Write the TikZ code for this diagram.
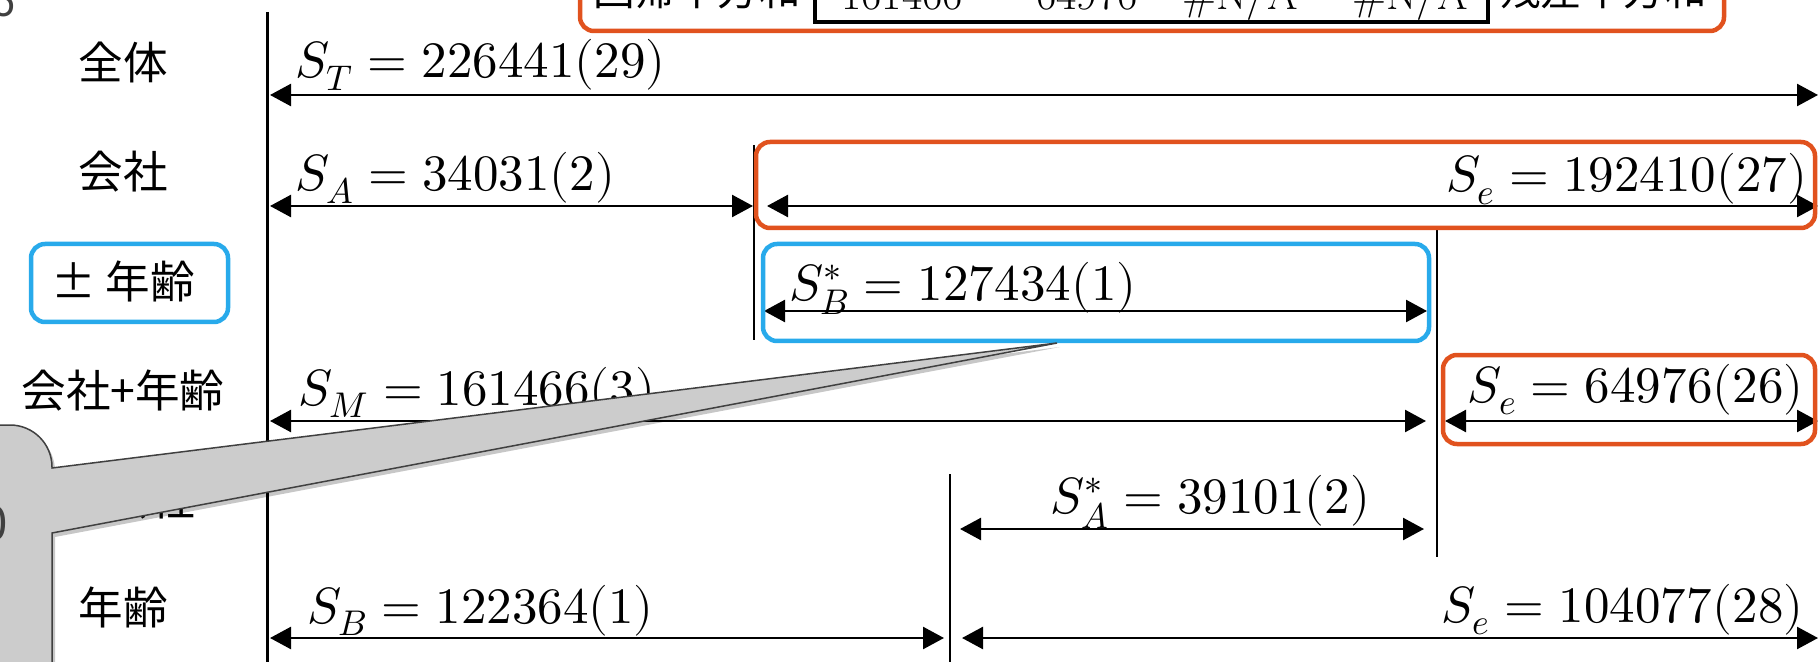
\documentclass[tikz,border=0pt]{standalone}
\usepackage{fontspec}
\usepackage{unicode-math}
\usepackage{graphicx}
\usetikzlibrary{arrows.meta,shadows}
\newfontfamily\jp{Noto Sans CJK JP}
\newfontfamily\nsans{Noto Sans}
\definecolor{orng}{RGB}{225,82,30}
\definecolor{blu}{RGB}{40,170,235}
\definecolor{callfill}{RGB}{204,204,204}
\definecolor{callline}{RGB}{64,64,64}
\newcommand\mlab[1]{\scalebox{1.0}[1]{$#1$}}
\begin{document}
\begin{tikzpicture}[x=0.5pt,y=-0.5pt,
  rowlab/.style={font=\jp\fontsize{22.3}{26}\selectfont, anchor=base, inner sep=0},
  mathlab/.style={font=\fontsize{25.5}{30}\selectfont, inner sep=0},
  toplab/.style={font=\jp\fontsize{20.8}{24}\selectfont, anchor=base, inner sep=0},
  topnum/.style={font=\fontsize{22}{26}\selectfont, anchor=base, inner sep=0},
  dimarrow/.style={line width=1.25pt, {Triangle[length=10.5pt,width=11pt]}-{Triangle[length=10.5pt,width=11pt]}},
  sepline/.style={line width=1.1pt},
  obox/.style={draw=orng, line width=2.25pt, rounded corners=7pt},
  bbox/.style={draw=blu, line width=2.25pt, rounded corners=7pt},
  greytext/.style={font=\nsans\fontsize{22}{26}\selectfont, text=callline, anchor=base east, inner sep=0},
]
\useasboundingbox (0,0) rectangle (1818,662);
\clip (0,0) rectangle (1818,662);

% separator lines
\coordinate (v1t) at (267,12);   \coordinate (v1b) at (267,662);
\coordinate (v2t) at (754,145);  \coordinate (v2b) at (754,340);
\coordinate (v3t) at (1437,228); \coordinate (v3b) at (1437,557);
\coordinate (v4t) at (950,474);  \coordinate (v4b) at (950,662);
\draw[line width=1.5pt] (v1t) -- (v1b);
\draw[sepline] (v2t) -- (v2b);
\draw[sepline] (v3t) -- (v3b);
\draw[sepline] (v4t) -- (v4b);

% arrow end points
\coordinate (a1l) at (270,95);   \coordinate (a1r) at (1818,95);
\coordinate (a2l) at (270,206);  \coordinate (a2r) at (753,206);
\coordinate (a3l) at (767,206);  \coordinate (a3r) at (1818,206);
\coordinate (a4l) at (764,311);  \coordinate (a4r) at (1427,311);
\coordinate (a5l) at (270,421);  \coordinate (a5r) at (1426,421);
\coordinate (a6l) at (1445,421); \coordinate (a6r) at (1818,421);
\coordinate (a7l) at (960,529);  \coordinate (a7r) at (1424,529);
\coordinate (a8l) at (270,638);  \coordinate (a8r) at (944,638);
\coordinate (a9l) at (962,638);  \coordinate (a9r) at (1818,638);
\foreach \i in {1,...,9} {\draw[dimarrow] (a\i l) -- (a\i r);}

% math labels
\node[mathlab, anchor=base west] (lT) at (295,78) {\mlab{S_T = 226441(29)}};
\node[mathlab, anchor=base west] (lA) at (295,191) {\mlab{S_A = 34031(2)}};
\node[mathlab, anchor=base east] (le1) at (1808,192) {\mlab{S_e = 192410(27)}};
\node[mathlab, anchor=base west] (lBs) at (789,300) {\mlab{S_B^{*} = 127434(1)}};
\node[mathlab, anchor=base west] (lM) at (298,405) {\mlab{S_M = 161466(3)}};
\node[mathlab, anchor=base east] (le2) at (1804,402) {\mlab{S_e = 64976(26)}};
\node[mathlab, anchor=base] (lAs) at (1210,513) {\mlab{S_A^{*} = 39101(2)}};
\node[mathlab, anchor=base west] (lB) at (307,623) {\mlab{S_B = 122364(1)}};
\node[mathlab, anchor=base east] (le3) at (1804,622) {\mlab{S_e = 104077(28)}};

% row labels
\node[rowlab] (r1) at (123,80) {全体};
\node[rowlab] (r2) at (123,189) {会社};
\node[rowlab] (r3) at (123,299) {± 年齢};
\node[rowlab] (r4) at (123,407) {会社+年齢};
\node[rowlab] (r5) at (123,515) {± 会社};
\node[rowlab] (r6) at (123,624) {年齢};

% highlight boxes
\draw[bbox] (31,244) rectangle (228,322);
\draw[bbox] (763,244) rectangle (1429,341);
\draw[obox] (756,142) rectangle (1815,228);
\draw[obox] (1443,355) rectangle (1815,444);

% top strip (cut off)
\draw[obox] (580,-60) rectangle (1724,31);
\draw[line width=2pt] (815,-60) |- (1488,22) -- (1488,-60);
\node[toplab] (tl1) at (697,6) {回帰平方和};
\node[toplab] (tl2) at (1603,6) {残差平方和};
\node[topnum] (n1) at (902,10) {161466};
\node[topnum] (n2) at (1087,10) {64976};
\node[topnum] (n3) at (1240,10) {\#N/A};
\node[topnum] (n4) at (1410,10) {\#N/A};
\node[greytext] (g1) at (16,17) {6};

% callout
\coordinate (tip) at (1057,343);
\draw[fill=callfill, draw=callline, line width=0.75pt,
      drop shadow={shadow xshift=1.5pt, shadow yshift=-2pt, opacity=0.22, fill=black}]
  (52,533) -- (tip) -- (52,468) [rounded corners=21pt] -- (52,425) -- (-300,425) [sharp corners] -- (-300,720) -- (52,720) -- cycle;
\node[greytext, font=\nsans\fontsize{24}{28}\selectfont] (g2) at (8,540) {0};
\end{tikzpicture}
\end{document}
